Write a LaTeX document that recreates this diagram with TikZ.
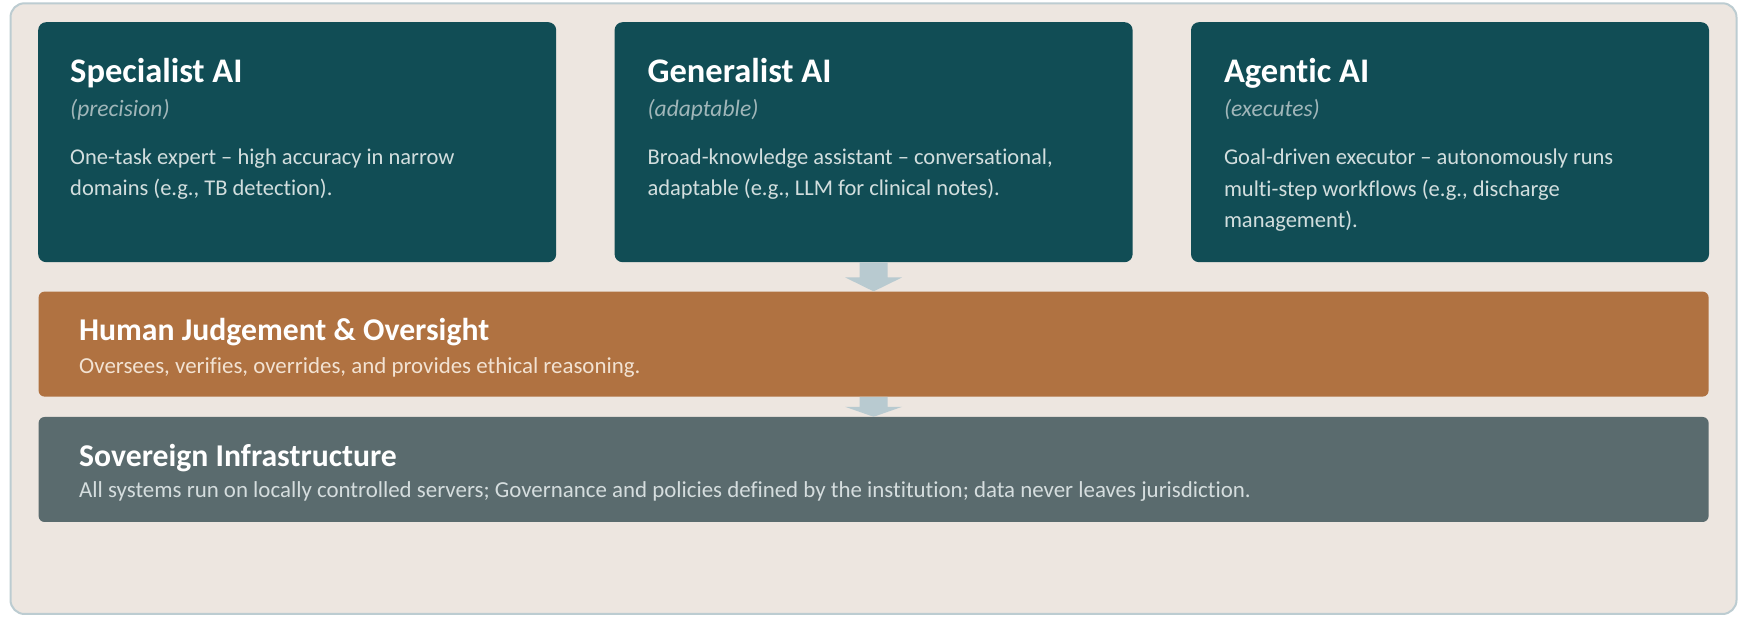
\documentclass[tikz,border=0pt]{standalone}
\usepackage{fontspec}
\setmainfont{Carlito}[Ligatures=NoCommon]
\usetikzlibrary{positioning}

\definecolor{sand}{HTML}{EDE6E0}
\definecolor{frameline}{HTML}{BCCCD1}
\definecolor{aiteal}{HTML}{114D55}
\definecolor{humanorange}{HTML}{B07241}
\definecolor{slate}{HTML}{5A6B6E}
\definecolor{flow}{HTML}{B8CAD0}
\definecolor{tagtext}{HTML}{A0B6B9}
\definecolor{bodytext}{HTML}{D2DEDE}
\definecolor{creamtext}{HTML}{F2E2D2}
\definecolor{slatetext}{HTML}{D5DDDE}

% block arrow from the bottom of #1 to the top of #2, head length #3
\newcommand{\flowdown}[3]{%
    \fill[flow] ([xshift=-14pt]#1.south) -- ([xshift=14pt]#1.south)
        -- ([shift={(14pt,#3)}]#2.north) -- ([shift={(28.5pt,#3)}]#2.north)
        -- (#2.north) -- ([shift={(-28.5pt,#3)}]#2.north)
        -- ([shift={(-14pt,#3)}]#2.north) -- cycle;}

\begin{document}
\begin{tikzpicture}[x=1pt,y=1pt,
        panel/.style={anchor=north west,fill=aiteal,rounded corners=8pt,inner sep=0pt,minimum width=518pt,minimum height=240pt},
        band/.style={fill=#1,rounded corners=6pt,inner sep=0pt,minimum width=1670pt,minimum height=105pt},
        head/.style={anchor=base west,inner sep=0pt,text=white,font=\fontsize{34.5}{40}\selectfont\bfseries},
        bandhead/.style={head,font=\fontsize{31.7}{37}\selectfont\bfseries},
        tag/.style={anchor=base west,inner sep=0pt,text=tagtext,font=\fontsize{23.5}{27}\selectfont\itshape},
        blurb/.style={anchor=base west,inner sep=0pt,align=left,text=#1,font=\fontsize{22.5}{31.5}\selectfont},
        bandblurb/.style={blurb=#1,font=\fontsize{22.9}{28}\selectfont}]
        \fill[white](0,0)rectangle(1745,617);
        \draw[frameline,line width=2pt,fill=sand,rounded corners=14pt](10.5,3)rectangle(1736.5,613.7);

        \node[panel](spec)at(38,595){};
        \node[panel,right=58pt of spec](gen){};
        \node[panel,right=58pt of gen](agent){};
        \node[band=humanorange,below=29pt of gen](human){};
        \node[band=slate,below=20pt of human](sovereign){};

        % blurbs are placed by the baseline of their last line
        \node[head](spec-head)at([shift={(32pt,-60.7pt)}]spec.north west){Specialist AI};
        \node[tag](spec-tag)at([shift={(32pt,-94.7pt)}]spec.north west){(precision)};
        \node[blurb=bodytext](spec-text)at([shift={(32pt,-174pt)}]spec.north west){One-task expert – high accuracy in narrow\\domains (e.g., TB detection).};

        \node[head](gen-head)at([shift={(33pt,-60.7pt)}]gen.north west){Generalist AI};
        \node[tag](gen-tag)at([shift={(33pt,-94.7pt)}]gen.north west){(adaptable)};
        \node[blurb=bodytext](gen-text)at([shift={(33pt,-174pt)}]gen.north west){Broad-knowledge assistant – conversational,\\adaptable (e.g., LLM for clinical notes).};

        \node[head](agent-head)at([shift={(33pt,-60.7pt)}]agent.north west){Agentic AI};
        \node[tag](agent-tag)at([shift={(33pt,-94.7pt)}]agent.north west){(executes)};
        \node[blurb=bodytext](agent-text)at([shift={(33pt,-206pt)}]agent.north west){Goal-driven executor – autonomously runs\\multi-step workflows (e.g., discharge\\management).};

        \node[bandhead](human-head)at([shift={(40.6pt,-49.5pt)}]human.north west){Human Judgement \& Oversight};
        \node[bandblurb=creamtext](human-text)at([shift={(40.6pt,-82pt)}]human.north west){Oversees, verifies, overrides, and provides ethical reasoning.};

        \node[bandhead](sovereign-head)at([shift={(40.6pt,-50pt)}]sovereign.north west){Sovereign Infrastructure};
        \node[bandblurb=slatetext](sovereign-text)at([shift={(40.6pt,-81pt)}]sovereign.north west){All systems run on locally controlled servers; Governance and policies defined by the institution; data never leaves jurisdiction.};

        \flowdown{gen}{human}{14pt}
        \flowdown{human}{sovereign}{10pt}
    \end{tikzpicture}
\end{document}
